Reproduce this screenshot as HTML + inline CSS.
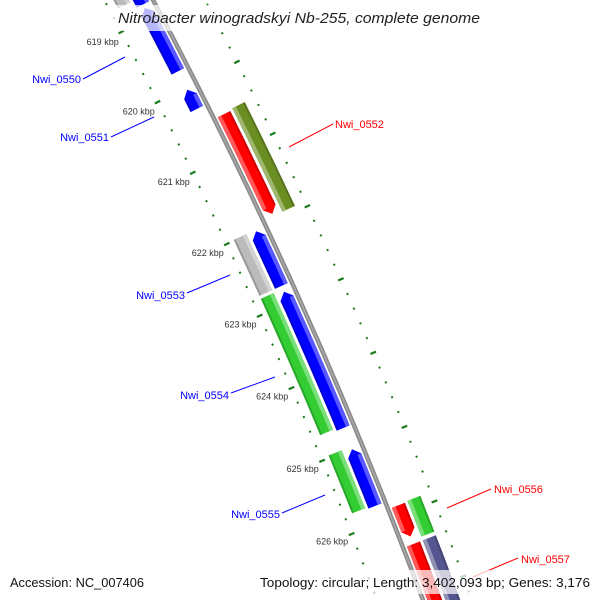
<!DOCTYPE html>
<html><head><meta charset="utf-8"><style>
html,body{margin:0;padding:0;background:#fff;width:600px;height:600px;overflow:hidden;}
svg{display:block;font-family:"Liberation Sans","DejaVu Sans",sans-serif;}
</style></head><body>
<svg id="map" width="600" height="600" viewBox="0 0 600 600" xmlns="http://www.w3.org/2000/svg">
<rect width="600" height="600" fill="#fff"/>
<g id="ticks"></g>
<g id="feats"></g>
<g id="labels">
<g><line x1="83" y1="79" x2="125" y2="57" stroke="#0000ff"/><text x="81" y="83" text-anchor="end" font-size="11" fill="#0000ff">Nwi_0550</text></g>
<g><line x1="111" y1="137" x2="154" y2="117" stroke="#0000ff"/><text x="109" y="141" text-anchor="end" font-size="11" fill="#0000ff">Nwi_0551</text></g>
<g><line x1="289" y1="147" x2="333" y2="124" stroke="#ff0000"/><text x="335" y="128" font-size="11" fill="#ff0000">Nwi_0552</text></g>
<g><line x1="187" y1="293" x2="230" y2="275" stroke="#0000ff"/><text x="185" y="299" text-anchor="end" font-size="11" fill="#0000ff">Nwi_0553</text></g>
<g><line x1="231" y1="393" x2="275" y2="377" stroke="#0000ff"/><text x="229" y="399" text-anchor="end" font-size="11" fill="#0000ff">Nwi_0554</text></g>
<g><line x1="282" y1="513" x2="325" y2="495" stroke="#0000ff"/><text x="280" y="518" text-anchor="end" font-size="11" fill="#0000ff">Nwi_0555</text></g>
<g><line x1="447" y1="508" x2="491" y2="489" stroke="#ff0000"/><text x="494" y="493" font-size="11" fill="#ff0000">Nwi_0556</text></g>
<g><line x1="473" y1="577" x2="518" y2="558" stroke="#ff0000"/><text x="521" y="563" font-size="11" fill="#ff0000">Nwi_0557</text></g>
</g>
<rect x="112" y="5" width="374" height="26" fill="#fff" opacity="0.72"/>
<text x="118" y="23" textLength="362" lengthAdjust="spacingAndGlyphs" font-size="14.5" font-style="italic" fill="#222">Nitrobacter winogradskyi Nb-255, complete genome</text>
<rect x="0" y="570" width="600" height="24" fill="#fff" opacity="0.72"/>
<text x="10" y="587" textLength="134" lengthAdjust="spacingAndGlyphs" font-size="13" fill="#111">Accession: NC_007406</text>
<text x="260" y="587" textLength="330" lengthAdjust="spacingAndGlyphs" font-size="13" fill="#111">Topology: circular; Length: 3,402,093 bp; Genes: 3,176</text>
</svg>
<script>
// feature data (kbp)
const featStart = [618.5, 618.87, 620.03, 620.51, 620.49, 621.99, 622.01, 622.81, 622.85, 624.97, 625.01, 625.88, 625.87, 626.4, 626.4];
const featEnd   = [618.82, 619.77, 620.30, 621.90, 621.93, 622.77, 622.77, 624.69, 624.72, 625.76, 625.78, 626.30, 626.35, 627.8, 627.8];
const featRing  = [1, 1, 1, 3, 4, 2, 1, 2, 1, 2, 1, 3, 4, 3, 4];
const featStrand= [-1, -1, -1, 1, 0, 0, -1, 0, -1, 0, -1, 1, 0, 1, 0];
const featColor = ["#0000ff","#0000ff","#0000ff","#ff0000","#6b8e23","#bbbbbb","#0000ff","#33cc33","#0000ff","#33cc33","#0000ff","#ff0000","#33cc33","#ff0000","#55558f"];
const extraGreyStart = [618.3];
const extraGreyEnd = [618.72];
const tickLabels = [619,620,621,622,623,624,625,626];

const CX=-4312, CY=2370, R0=5055, A0=-0.4853, DA=0.01575;
function pt(k,d){const a=A0+(k-619)*DA;return [CX+(R0+d)*Math.cos(a), CY+(R0+d)*Math.sin(a)];}
const ringIn={1:-18,2:-35,3:4,4:21}, ringOut={1:-4,2:-21,3:18,4:35};
const NS='http://www.w3.org/2000/svg';
const feats=document.getElementById('feats'), ticks=document.getElementById('ticks');
function P(a){return a[0].toFixed(1)+','+a[1].toFixed(1);}
function lighten(c,f){const n=parseInt(c.slice(1),16);let r=n>>16,g=(n>>8)&255,b=n&255;r=Math.round(r+(255-r)*f);g=Math.round(g+(255-g)*f);b=Math.round(b+(255-b)*f);return 'rgb('+r+','+g+','+b+')';}
function band(s,e,d1,d2,strand){
  const pts=[]; const ah=0.09; const n=12;
  let s2=s,e2=e;
  if(strand===-1) s2=Math.min(e,s+ah);
  if(strand===1) e2=Math.max(s,e-ah);
  for(let i=0;i<=n;i++){const k=s2+(e2-s2)*i/n;pts.push(P(pt(k,d1)));}
  if(strand===1){pts.push(P(pt(e2,d1)));pts.push(P(pt(e,(d1+d2)/2)));}
  for(let i=n;i>=0;i--){const k=s2+(e2-s2)*i/n;pts.push(P(pt(k,d2)));}
  if(strand===-1){pts.push(P(pt(s,(d1+d2)/2)));}
  return pts.join(' ');
}
// backbone
const bb=document.createElementNS(NS,'polyline');
let bp=[];for(let k=618.3;k<=628;k+=0.25)bp.push(P(pt(k,0)));
bb.setAttribute('points',bp.join(' '));bb.setAttribute('fill','none');bb.setAttribute('stroke','#8a8a8a');bb.setAttribute('stroke-width','4.5');


feats.appendChild(bb);
const bb2=bb.cloneNode();bb2.setAttribute('stroke','#a8a8a8');bb2.setAttribute('stroke-width','1.5');


feats.appendChild(bb2);
function drawFeature(s,e,ring,strand,color,name){
  const d1=ringIn[ring],d2=ringOut[ring];
  const g=document.createElementNS(NS,'g');
  
  
  const base=document.createElementNS(NS,'polygon');
  base.setAttribute('points',band(s,e,d1,d2,strand));base.setAttribute('fill',color);
  g.appendChild(base);
  const inner = d1<0;
  const hs = inner ? [d2-4,d2] : [d1,d1+4];
  const hl=document.createElementNS(NS,'polygon');
  hl.setAttribute('points',band(s+(strand===-1?0.09:0),e-(strand===1?0.09:0),hs[0],hs[1],0));
  hl.setAttribute('fill',lighten(color,0.35));
  g.appendChild(hl);
  const ds = inner ? [d1,d1+2] : [d2-2,d2];
  const dk=document.createElementNS(NS,'polygon');
  dk.setAttribute('points',band(s+(strand===-1?0.09:0),e-(strand===1?0.09:0),ds[0],ds[1],0));
  dk.setAttribute('fill','rgba(0,0,0,0.18)');
  g.appendChild(dk);
  feats.appendChild(g);
}
for(let i=0;i<featStart.length;i++) drawFeature(featStart[i],featEnd[i],featRing[i],featStrand[i],featColor[i],'feature-'+i);
for(let i=0;i<extraGreyStart.length;i++) drawFeature(extraGreyStart[i],extraGreyEnd[i],2,0,'#bbbbbb','feature-grey-top');
// ticks
for(let j=0;j<=50;j++){
  const k=618.4+j*0.2; const major=Math.abs(k-Math.round(k))<0.01;
  [[-46,-40,-44,-42],[43,49,45,47]].forEach(r=>{
    const a=major?pt(k,r[0]):pt(k,r[2]), b=major?pt(k,r[1]):pt(k,r[3]);
    const l=document.createElementNS(NS,'line');
    l.setAttribute('x1',a[0]);l.setAttribute('y1',a[1]);l.setAttribute('x2',b[0]);l.setAttribute('y2',b[1]);
    l.setAttribute('stroke','#1a7a1a');l.setAttribute('stroke-width',major?'2.2':'2');
    
    
    ticks.appendChild(l);
  });
}
tickLabels.forEach(k=>{
  const p=pt(k,-64);
  const t=document.createElementNS(NS,'text');
  t.setAttribute('x',p[0].toFixed(1));t.setAttribute('y',(p[1]+3).toFixed(1));
  t.setAttribute('text-anchor','middle');t.setAttribute('font-size','9');t.setAttribute('fill','#333');
  t.textContent=k+' kbp';
  
  
  ticks.appendChild(t);
});
</script>
</body></html>
